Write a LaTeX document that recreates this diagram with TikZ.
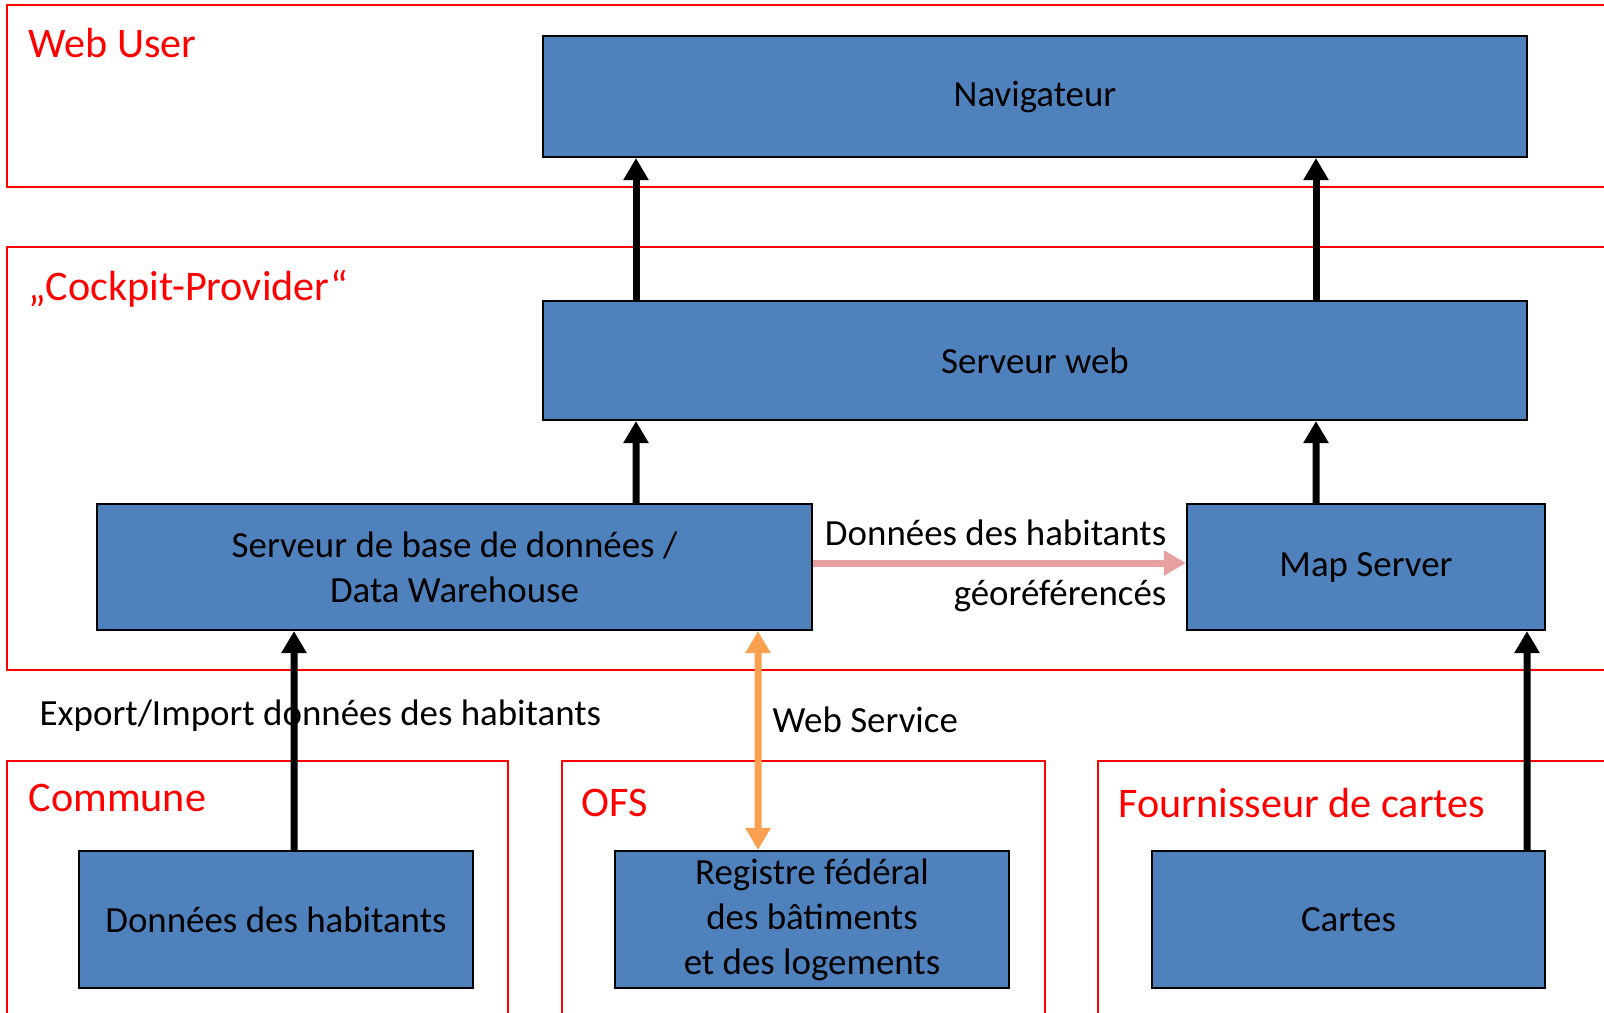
\documentclass[tikz,border=0pt]{standalone}
\usepackage{fontspec}
\setmainfont{Carlito}
\usetikzlibrary{arrows.meta}
\definecolor{boxblue}{RGB}{79,129,189}
\definecolor{linkpink}{RGB}{230,160,160}
\definecolor{linkorange}{RGB}{250,160,80}
\begin{document}
\begin{tikzpicture}[
  box/.style={draw=black, line width=0.6pt, fill=boxblue, inner sep=0pt, align=center,
    font=\fontsize{10.5}{12.8}\selectfont},
  frame/.style={draw=red, line width=0.6pt},
  title/.style={text=red, anchor=west, inner sep=0pt, font=\fontsize{12}{14}\selectfont},
  note/.style={anchor=west, inner sep=0pt, font=\fontsize{10.5}{12.8}\selectfont},
  flow/.style={line width=0.07cm, -{Triangle[width=0.24cm,length=0.22cm]}}
]
\useasboundingbox (0,0) rectangle (16.04,-10.12);
\clip (0,0) rectangle (16.04,-10.12);
\draw[frame] (0.07,-0.05) rectangle (16.6,-1.87);
\draw[frame] (0.07,-2.47) rectangle (16.6,-6.70);
\draw[frame] (0.07,-7.61) rectangle (5.08,-10.5);
\draw[frame] (5.62,-7.61) rectangle (10.45,-10.5);
\draw[frame] (10.98,-7.61) rectangle (16.6,-10.5);
\node[title] (webuser) at (0.28,-0.43) {Web User};
\node[title] (cockpit) at (0.28,-2.89) {„Cockpit-Provider“};
\node[title] (commune) at (0.28,-7.98) {Commune};
\node[title] (ofs) at (5.81,-8.03) {OFS};
\node[title] (fournisseur) at (11.18,-8.03) {Fournisseur de cartes};
\node[box, minimum width=9.84cm, minimum height=1.21cm] (nav) at (10.35,-0.965) {Navigateur};
\node[box, minimum width=9.84cm, minimum height=1.19cm] (web) at (10.35,-3.605) {Serveur web};
\node[box, minimum width=7.15cm, minimum height=1.26cm] (db) at (4.545,-5.67) {Serveur de base de données /\\Data Warehouse};
\node[box, minimum width=3.58cm, minimum height=1.26cm] (map) at (13.66,-5.67) {Map Server};
\node[box, minimum width=3.94cm, minimum height=1.37cm] (hab) at (2.76,-9.195) {Données des habitants};
\node[box, minimum width=3.94cm, minimum height=1.37cm] (reg) at (8.12,-9.195) {Registre fédéral\\des bâtiments\\et des logements};
\node[box, minimum width=3.93cm, minimum height=1.37cm] (cartes) at (13.485,-9.195) {Cartes};
\draw[flow] ([xshift=-3.99cm]web.north) -- ([xshift=-3.99cm]nav.south);
\draw[flow] ([xshift=2.81cm]web.north) -- ([xshift=2.81cm]nav.south);
\draw[flow] ([xshift=1.815cm]db.north) -- ([xshift=-3.99cm]web.south);
\draw[flow] ([xshift=-0.5cm]map.north) -- ([xshift=2.81cm]web.south);
\draw[flow] ([xshift=0.18cm]hab.north) -- ([xshift=-1.605cm]db.south);
\draw[flow] ([xshift=1.785cm]cartes.north) -- ([xshift=1.61cm]map.south);
\draw[line width=0.07cm, linkorange, {Triangle[width=0.24cm,length=0.22cm]}-{Triangle[width=0.24cm,length=0.22cm]}]
  ([xshift=3.035cm]db.south) -- ([xshift=-0.54cm]reg.north);
\draw[line width=0.07cm, linkpink, -{Triangle[width=0.24cm,length=0.22cm]}]
  ([yshift=0.04cm]db.east) -- ([yshift=0.04cm]map.west);
\node[note, anchor=east] (geoup) at (11.67,-5.33) {Données des habitants};
\node[note, anchor=east] (geodown) at (11.67,-5.96) {géoréférencés};
\node[note] (export) at (0.39,-7.16) {Export/Import données des habitants};
\node[note] (websvc) at (7.72,-7.20) {Web Service};
\end{tikzpicture}
\end{document}
